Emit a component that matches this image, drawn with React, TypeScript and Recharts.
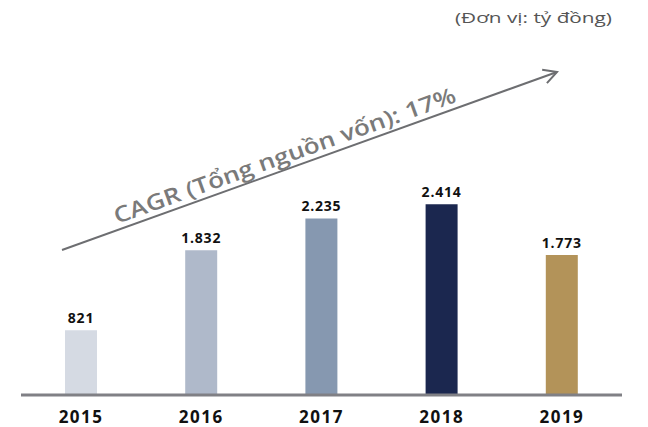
import React from "react";
import { BarChart, Bar, XAxis, YAxis, LabelList, Cell, Customized } from "recharts";

const years = ["2015", "2016", "2017", "2018", "2019"];
const totalCapital = [821, 1832, 2235, 2414, 1773];
const barColors = ["#d5dae3", "#afb9ca", "#8698b0", "#1b274f", "#b39359"];
const unitNote = "(Đơn vị: tỷ đồng)";
const cagrNote = "CAGR (Tổng nguồn vốn): 17%";

const data = years.map((year, i) => ({ year, value: totalCapital[i] }));

const fmt = (v: number) => v.toLocaleString("de-DE");

const FONT = "'Open Sans', sans-serif";

// arrow + rotated CAGR caption
const CagrArrow = () => {
    const x1 = 62, y1 = 250, x2 = 557, y2 = 72;
    const angle = (Math.atan2(y2 - y1, x2 - x1) * 180) / Math.PI;
    const rad = (angle * Math.PI) / 180;
    const head = 15;
    const spread = (28 * Math.PI) / 180;
    const hx1 = x2 - head * Math.cos(rad - spread);
    const hy1 = y2 - head * Math.sin(rad - spread);
    const hx2 = x2 - head * Math.cos(rad + spread);
    const hy2 = y2 - head * Math.sin(rad + spread);
    return (
        <g>
            <line x1={x1} y1={y1} x2={x2} y2={y2} stroke="#6d6e71" strokeWidth={2} />
            <polyline
                points={`${hx1},${hy1} ${x2},${y2} ${hx2},${hy2}`}
                fill="none"
                stroke="#6d6e71"
                strokeWidth={2}
            />
            <text
                x={117}
                y={224}
                transform={`rotate(${angle} 117 224)`}
                fill="#7a7a7a"
                fontFamily={FONT}
                fontSize={22}
                fontWeight={600}
                textLength={362}
                lengthAdjust="spacingAndGlyphs"
            >
                {cagrNote}
            </text>
            <text
                x={612}
                y={23}
                textAnchor="end"
                fill="#555"
                fontFamily={FONT}
                fontSize={15}
                textLength={157}
                lengthAdjust="spacingAndGlyphs"
            >
                {unitNote}
            </text>
        </g>
    );
};

export default function App() {
    return (
        <div style={{ position: "absolute", left: 0, top: 0, background: "#fff" }}>
            <BarChart
                width={648}
                height={427}
                data={data}
                margin={{ top: 158, right: 26, bottom: 0, left: 21 }}
            >
                <XAxis
                    dataKey="year"
                    height={32}
                    tickLine={false}
                    axisLine={{ stroke: "#808085", strokeWidth: 3 }}
                    tick={{ fill: "#111", fontSize: 17, fontWeight: 700, fontFamily: FONT, letterSpacing: 1.5 }}
                    tickMargin={10}
                />
                <YAxis hide domain={[0, 3000]} />
                <Bar dataKey="value" barSize={32} isAnimationActive={false}>
                    {data.map((d, i) => (
                        <Cell key={d.year} fill={barColors[i]} />
                    ))}
                    <LabelList
                        dataKey="value"
                        position="top"
                        offset={7}
                        formatter={(v: any) => fmt(Number(v))}
                        style={{ fill: "#111", fontSize: 14, fontWeight: 700, fontFamily: FONT, letterSpacing: 0.8 }}
                    />
                </Bar>
                <Customized component={CagrArrow} />
            </BarChart>
        </div>
    );
}
